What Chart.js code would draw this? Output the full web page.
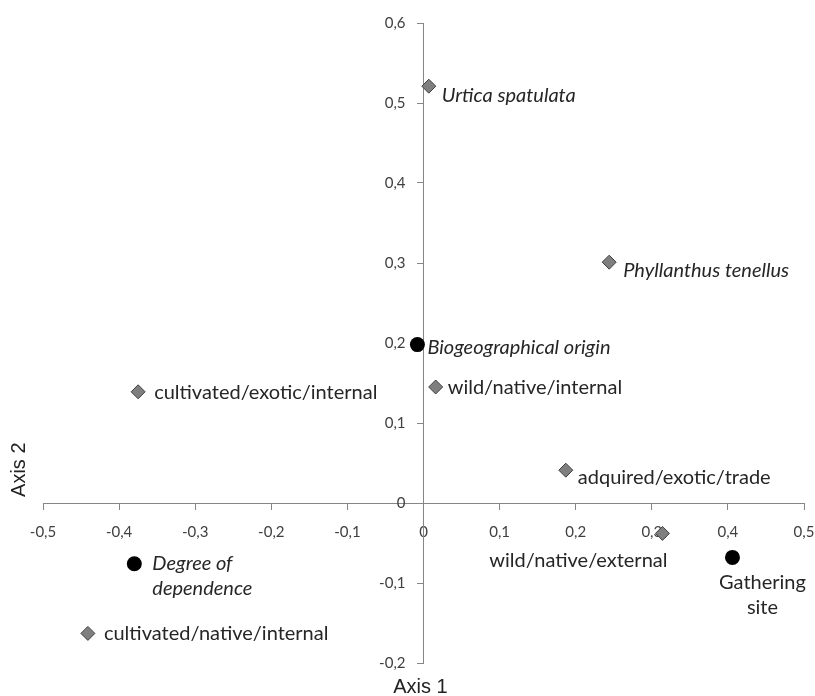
<!DOCTYPE html>
<html>
<head>
<meta charset="utf-8">
<script src="https://cdn.jsdelivr.net/npm/chart.js@4.4.1/dist/chart.umd.min.js"></script>
<style>
  html, body { margin: 0; padding: 0; background: #fff; }
  #wrap { width: 815px; height: 696px; }
</style>
</head>
<body>
<div id="wrap"><canvas id="biplot" width="815" height="696"></canvas></div>
<script>
// variables (black dots)
const variableNames = ['Biogeographical origin', 'Degree of dependence', 'Gathering site'];
const variableX = [-0.008, -0.380, 0.406];
const variableY = [0.198, -0.076, -0.068];

// categories + species (grey diamonds)
const categoryNames = ['Urtica spatulata', 'Phyllanthus tenellus', 'wild/native/internal', 'cultivated/exotic/internal',
  'adquired/exotic/trade', 'wild/native/external', 'cultivated/native/internal'];
const categoryX = [0.007, 0.244, 0.016, -0.375, 0.187, 0.314, -0.441];
const categoryY = [0.521, 0.301, 0.145, 0.139, 0.041, -0.038, -0.163];

// axis ticks
const xTickValues = [-0.5, -0.4, -0.3, -0.2, -0.1, 0, 0.1, 0.2, 0.3, 0.4, 0.5];
const xTickLabels = ['-0,5', '-0,4', '-0,3', '-0,2', '-0,1', '0', '0,1', '0,2', '0,3', '0,4', '0,5'];
const yTickValues = [-0.2, -0.1, 0, 0.1, 0.2, 0.3, 0.4, 0.5, 0.6];
const yTickLabels = ['-0,2', '-0,1', '0', '0,1', '0,2', '0,3', '0,4', '0,5', '0,6'];

const italicNames = ['Urtica spatulata', 'Phyllanthus tenellus', 'Biogeographical origin', 'Degree of dependence'];

// where each text sits relative to its marker
const labelPlacement = {
  'Urtica spatulata': { dx: 13, dy: 9, align: 'left' },
  'Phyllanthus tenellus': { dx: 14, dy: 8, align: 'left' },
  'Biogeographical origin': { dx: 10, dy: 3, align: 'left' },
  'wild/native/internal': { dx: 12, dy: 1, align: 'left' },
  'cultivated/exotic/internal': { dx: 16, dy: 1, align: 'left' },
  'adquired/exotic/trade': { dx: 12, dy: 7, align: 'left' },
  'wild/native/external': { dx: 5, dy: 27, align: 'right' },
  'cultivated/native/internal': { dx: 16, dy: 0, align: 'left' },
  'Degree of dependence': { dx: 18, dy: 0, align: 'left', lines: ['Degree of', 'dependence'] },
  'Gathering site': { dx: 30, dy: 25, align: 'center', lines: ['Gathering', 'site'] },
};

const toPoints = (xs, ys) => xs.map((x, i) => ({ x, y: ys[i] }));

const pointLabels = {
  id: 'pointLabels',
  afterDatasetsDraw(chart) {
    const ctx = chart.ctx;
    ctx.save();
    ctx.fillStyle = '#262626';
    ctx.textBaseline = 'middle';
    chart.data.datasets.forEach((ds, di) => {
      const meta = chart.getDatasetMeta(di);
      meta.data.forEach((el, i) => {
        const name = ds.names[i];
        const p = labelPlacement[name] || { dx: 12, dy: 0, align: 'left' };
        const lines = p.lines || [name];
        ctx.font = (italicNames.includes(name) ? 'italic ' : '') + '20px Lato';
        ctx.textAlign = p.align;
        lines.forEach((line, li) => {
          ctx.fillText(line, el.x + p.dx, el.y + p.dy + li * 25);
        });
      });
    });
    ctx.restore();
  },
};

const axisTitles = {
  id: 'axisTitles',
  afterDraw(chart) {
    const ctx = chart.ctx;
    const area = chart.chartArea;
    ctx.save();
    ctx.fillStyle = '#222';
    ctx.font = '20px "Liberation Sans"';
    ctx.textAlign = 'center';
    ctx.textBaseline = 'alphabetic';
    ctx.fillText('Axis 1', (area.left + area.right) / 2 - 3, chart.height - 3);
    ctx.translate(19, area.top + (area.bottom - area.top) * 0.698);
    ctx.rotate(-Math.PI / 2);
    ctx.textBaseline = 'middle';
    ctx.fillText('Axis 2', 0, 0);
    ctx.restore();
  },
};

// the axes sit inside the plot, so they should not push the plot area in
const noScalePadding = (scale) => {
  scale.paddingLeft = 0;
  scale.paddingRight = 0;
  scale.paddingTop = 0;
  scale.paddingBottom = 0;
};

const axisGrey = '#868686';

new Chart(document.getElementById('biplot').getContext('2d'), {
  type: 'scatter',
  data: {
    datasets: [
      {
        label: 'categories',
        names: categoryNames,
        data: toPoints(categoryX, categoryY),
        pointStyle: 'rectRot',
        pointRadius: 7,
        backgroundColor: '#7f7f7f',
        borderColor: '#404040',
        borderWidth: 1,
      },
      {
        label: 'variables',
        names: variableNames,
        data: toPoints(variableX, variableY),
        pointStyle: 'circle',
        pointRadius: 7.5,
        backgroundColor: '#000',
        borderColor: '#000',
        borderWidth: 0,
      },
    ],
  },
  options: {
    responsive: false,
    animation: false,
    layout: { padding: { left: 43, right: 11, top: 23, bottom: 33 } },
    plugins: { legend: { display: false }, tooltip: { enabled: false } },
    scales: {
      x: {
        type: 'linear',
        min: -0.5,
        max: 0.5,
        position: { y: 0 },
        afterBuildTicks: (scale) => { scale.ticks = xTickValues.map((v) => ({ value: v })); },
        afterFit: noScalePadding,
        ticks: {
          callback: (v, i) => xTickLabels[i],
          font: { family: 'Lato', size: 15 },
          color: '#404040',
          padding: 14,
          maxRotation: 0,
          autoSkip: false,
        },
        grid: { drawOnChartArea: false, drawTicks: true, tickLength: 6, color: axisGrey },
        border: { color: axisGrey, width: 1 },
      },
      y: {
        type: 'linear',
        min: -0.2,
        max: 0.6,
        // x range is symmetric, so centre of the area is x = 0
        position: 'center',
        afterBuildTicks: (scale) => { scale.ticks = yTickValues.map((v) => ({ value: v })); },
        afterFit: noScalePadding,
        ticks: {
          callback: (v, i) => yTickLabels[i],
          font: { family: 'Lato', size: 15 },
          color: '#404040',
          padding: 12,
          autoSkip: false,
        },
        grid: { drawOnChartArea: false, drawTicks: true, tickLength: 6, color: axisGrey },
        border: { color: axisGrey, width: 1 },
      },
    },
  },
  plugins: [pointLabels, axisTitles],
});
</script>
</body>
</html>
